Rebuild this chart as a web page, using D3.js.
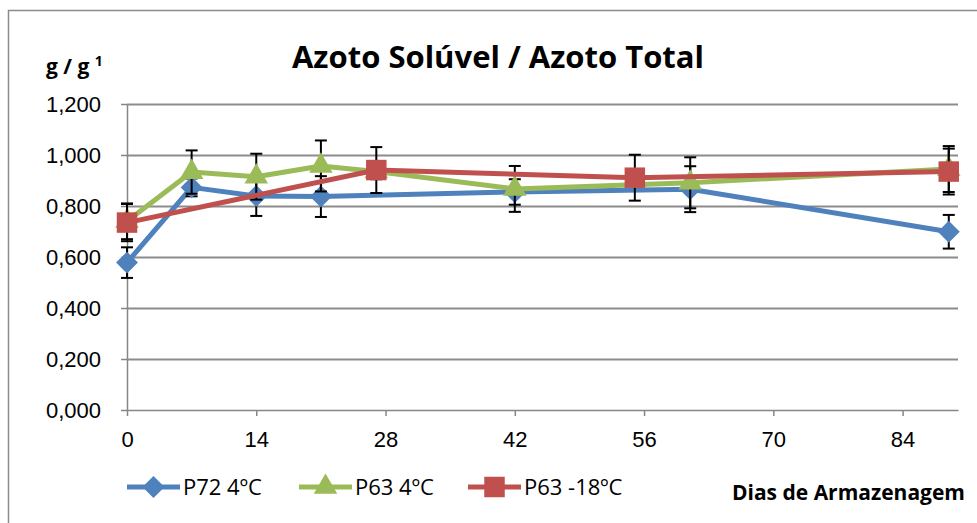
<!DOCTYPE html>
<html>
<head>
<meta charset="utf-8">
<script src="https://cdn.jsdelivr.net/npm/d3@7"></script>
<style>
  body { margin: 0; background: #fff; }
  svg { display: block; font-family: "Open Sans", sans-serif; }
  .axis path, .axis line { stroke: #868686; stroke-width: 1.5; }
  .axis text { fill: #000; font-size: 22px; }
  .grid line { stroke: #8c8c8c; stroke-width: 2; }
  .grid path { display: none; }
</style>
</head>
<body>
<svg id="chart" width="977" height="523"></svg>
<script>
// data
var xTicks = [0, 14, 28, 42, 56, 70, 84];
var yTicks = [0, 0.2, 0.4, 0.6, 0.8, 1.0, 1.2];

var daysP72 = [0, 7, 14, 21, 42, 61, 89];
var valP72  = [0.578, 0.873, 0.839, 0.837, 0.855, 0.866, 0.699];
var errP72  = [0.06, 0.035, 0.078, 0.08, 0.05, 0.09, 0.066];

var daysP63 = [0, 7, 14, 21, 27, 42, 61, 89];
var valP63  = [0.74, 0.933, 0.915, 0.957, 0.935, 0.867, 0.891, 0.945];
var errP63  = [0.07, 0.085, 0.09, 0.1, 0.03, 0.09, 0.1, 0.09];

var daysP63n = [0, 27, 55, 89];
var valP63n  = [0.735, 0.941, 0.911, 0.935];
var errP63n  = [0.073, 0.09, 0.09, 0.09];

var seriesNames = ["P72 4ºC", "P63 4ºC", "P63 -18ºC"];
var colors = ["#4f81bd", "#9bbb59", "#c0504d"];

var svg = d3.select("#chart");

// chart frame
svg.append("rect")
  .attr("x", 8.5).attr("y", 10.5)
  .attr("width", 975).attr("height", 520)
  .attr("fill", "none").attr("stroke", "#8c8c8c").attr("stroke-width", 1.5);

var x = d3.scaleLinear().domain([0, 90]).range([127, 958]);
var y = d3.scaleLinear().domain([0, 1.2]).range([410, 104]);

var pt = d3.formatLocale({decimal: ",", thousands: ".", grouping: [3], currency: ["", ""]});
var fmt = pt.format(".3f");

// gridlines
svg.append("g")
  .attr("class", "grid")
  .attr("transform", "translate(127,0)")
  .call(d3.axisLeft(y).tickValues(yTicks.slice(1)).tickSize(-(958 - 127)).tickFormat(""));

// y axis
svg.append("g")
  .attr("class", "axis")
  .attr("transform", "translate(127,0)")
  .call(d3.axisLeft(y).tickValues(yTicks).tickSize(6).tickSizeOuter(0).tickPadding(20).tickFormat(fmt));

// x axis
svg.append("g")
  .attr("class", "axis")
  .attr("transform", "translate(0,410)")
  .call(d3.axisBottom(x).tickValues(xTicks).tickSize(6).tickSizeOuter(0).tickPadding(15));

var series = [
  {days: daysP72, val: valP72, err: errP72},
  {days: daysP63, val: valP63, err: errP63},
  {days: daysP63n, val: valP63n, err: errP63n}
];

// marker shapes: rotated square (diamond), triangle, square
function marker(sel, i) {
  if (i == 0) {
    sel.append("path").attr("d", d3.symbol().type(d3.symbolSquare).size(240)())
      .attr("transform", "rotate(45)").attr("fill", colors[i]);
  } else if (i == 1) {
    sel.append("path").attr("d", d3.symbol().type(d3.symbolTriangle).size(240)())
      .attr("fill", colors[i]);
  } else {
    sel.append("path").attr("d", d3.symbol().type(d3.symbolSquare).size(420)())
      .attr("fill", colors[i]);
  }
}

var line = d3.line().x(d => x(d.d)).y(d => y(d.v));

series.forEach(function (s, i) {
  var pts = s.days.map((d, j) => ({d: d, v: s.val[j], e: s.err[j]}));
  var g = svg.append("g");

  g.append("path")
    .attr("d", line(pts))
    .attr("fill", "none")
    .attr("stroke", colors[i])
    .attr("stroke-width", 5)
    .attr("stroke-linejoin", "round");

  // error bars
  var eb = g.selectAll(".eb").data(pts).enter().append("g");
  eb.append("line")
    .attr("x1", d => x(d.d)).attr("x2", d => x(d.d))
    .attr("y1", d => y(d.v + d.e)).attr("y2", d => y(d.v - d.e))
    .attr("stroke", "#000").attr("stroke-width", 2);
  [1, -1].forEach(function (sg) {
    eb.append("line")
      .attr("x1", d => x(d.d) - 6).attr("x2", d => x(d.d) + 6)
      .attr("y1", d => y(d.v + sg * d.e)).attr("y2", d => y(d.v + sg * d.e))
      .attr("stroke", "#000").attr("stroke-width", 2);
  });

  g.selectAll(".mk").data(pts).enter().append("g")
    .attr("transform", d => "translate(" + x(d.d) + "," + y(d.v) + ")")
    .each(function () { marker(d3.select(this), i); });
});

// title & axis labels
svg.append("text")
  .attr("x", 498).attr("y", 68)
  .attr("text-anchor", "middle")
  .style("font-weight", "bold").style("font-size", "31px")
  .text("Azoto Solúvel / Azoto Total");

var yl = svg.append("text")
  .attr("x", 46).attr("y", 74)
  .style("font-weight", "bold").style("font-size", "21px");
yl.append("tspan").text("g / g ");
yl.append("tspan").attr("dy", -8).style("font-size", "14px").text("1");

svg.append("text")
  .attr("x", 965).attr("y", 500)
  .attr("text-anchor", "end")
  .style("font-weight", "bold").style("font-size", "21px")
  .text("Dias de Armazenagem");

// legend
var legX = [127, 299, 468];
seriesNames.forEach(function (n, i) {
  var lg = svg.append("g").attr("transform", "translate(" + legX[i] + ",487)");
  lg.append("line").attr("x1", 0).attr("x2", 53).attr("y1", 0).attr("y2", 0)
    .attr("stroke", colors[i]).attr("stroke-width", 5);
  marker(lg.append("g").attr("transform", "translate(26.5,0)"), i);
  lg.append("text").attr("x", 56).attr("y", 8).style("font-size", "22px").text(n);
});
</script>
</body>
</html>
